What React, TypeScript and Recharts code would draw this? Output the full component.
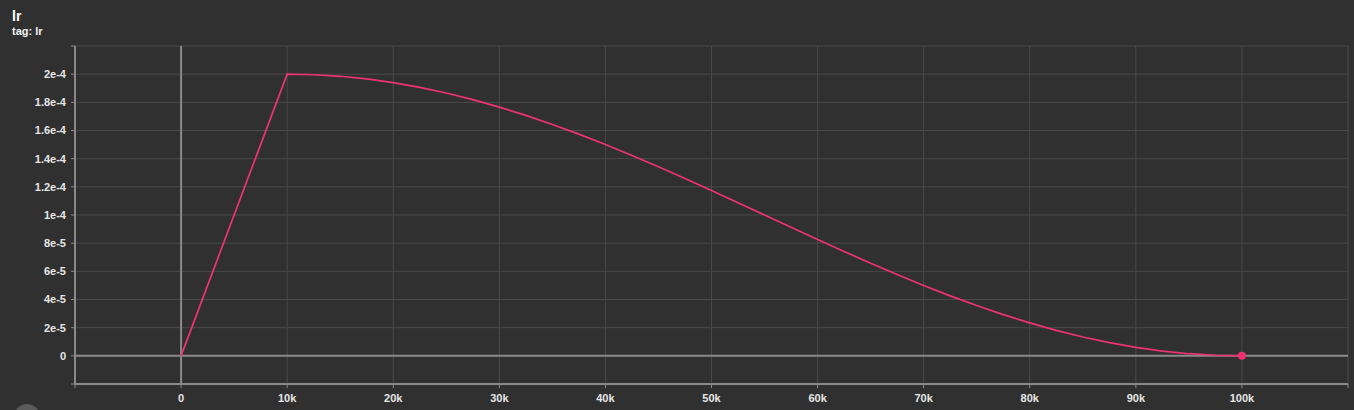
import React from "react";
import {
  LineChart,
  Line,
  XAxis,
  YAxis,
  CartesianGrid,
  ReferenceLine,
} from "recharts";

// training steps and learning rate
const STEPS = [
  0, 10000, 12500, 15000, 17500, 20000, 22500, 25000, 27500, 30000, 32500,
  35000, 37500, 40000, 42500, 45000, 47500, 50000, 52500, 55000, 57500, 60000,
  62500, 65000, 67500, 70000, 72500, 75000, 77500, 80000, 82500, 85000, 87500,
  90000, 92500, 95000, 97500, 100000,
];
const LR = [
  0, 2.0e-4, 1.996e-4, 1.985e-4, 1.966e-4, 1.94e-4, 1.906e-4, 1.866e-4,
  1.819e-4, 1.766e-4, 1.707e-4, 1.643e-4, 1.574e-4, 1.5e-4, 1.423e-4,
  1.342e-4, 1.259e-4, 1.174e-4, 1.087e-4, 1.0e-4, 0.913e-4, 0.826e-4,
  0.741e-4, 0.658e-4, 0.577e-4, 0.5e-4, 0.426e-4, 0.357e-4, 0.293e-4,
  0.234e-4, 0.181e-4, 0.134e-4, 0.094e-4, 0.06e-4, 0.034e-4, 0.015e-4,
  0.004e-4, 0,
];

const X_TICKS = [
  -10000, 0, 10000, 20000, 30000, 40000, 50000, 60000, 70000, 80000, 90000,
  100000, 110000,
];
const X_LABELS = [
  "", "0", "10k", "20k", "30k", "40k", "50k", "60k", "70k", "80k", "90k",
  "100k", "",
];
const Y_TICKS = [
  -2e-5, 0, 2e-5, 4e-5, 6e-5, 8e-5, 1e-4, 1.2e-4, 1.4e-4, 1.6e-4, 1.8e-4,
  2e-4, 2.2e-4,
];
const Y_LABELS = [
  "", "0", "2e-5", "4e-5", "6e-5", "8e-5", "1e-4", "1.2e-4", "1.4e-4",
  "1.6e-4", "1.8e-4", "2e-4", "",
];

const data = STEPS.map((step, i) => ({ step, lr: LR[i] }));

const BG = "#303030";
const GRID = "#4a4a4a";
const AXIS = "#8a8a8a";
const PINK = "#ee3372";
const tickStyle = { fontSize: 11, fill: "#e6e6e6", fontWeight: 700 };

export default function App() {
  const last = data.length - 1;
  return (
    <div
      style={{
        position: "fixed",
        top: 0,
        left: 0,
        width: 1354,
        height: 410,
        background: BG,
        overflow: "hidden",
        fontFamily: "'Liberation Sans', Arial, sans-serif",
      }}
    >
      <div style={{ position: "absolute", left: 12, top: 8, color: "#fff", fontSize: 14, fontWeight: 700 }}>
        lr
      </div>
      <div style={{ position: "absolute", left: 12, top: 25, color: "#f2f2f2", fontSize: 11, fontWeight: 700 }}>
        tag: lr
      </div>
      <div style={{ position: "absolute", left: 14, top: 404, width: 26, height: 26, borderRadius: 13, background: "#5a5a5a" }} />
      <div style={{ position: "absolute", left: 0, top: 0 }}>
        <LineChart width={1354} height={410} data={data} margin={{ top: 46, right: 6, left: 0, bottom: 0 }}>
          <CartesianGrid stroke={GRID} strokeWidth={1} />
          <XAxis
            dataKey="step"
            type="number"
            domain={[-10000, 110000]}
            ticks={X_TICKS}
            tickFormatter={(v: number) => X_LABELS[X_TICKS.indexOf(v)] ?? ""}
            tick={tickStyle}
            tickSize={4}
            tickMargin={6}
            height={26}
            stroke={AXIS}
            axisLine={{ stroke: AXIS, strokeWidth: 2 }}
            tickLine={{ stroke: AXIS }}
            allowDataOverflow
          />
          <YAxis
            type="number"
            domain={[-2e-5, 2.2e-4]}
            ticks={Y_TICKS}
            tickFormatter={(v: number) => Y_LABELS[Y_TICKS.indexOf(v)] ?? ""}
            tick={tickStyle}
            tickSize={4}
            tickMargin={5}
            width={75}
            axisLine={{ stroke: AXIS, strokeWidth: 2 }}
            tickLine={{ stroke: AXIS }}
            allowDataOverflow
          />
          <ReferenceLine x={0} stroke={AXIS} strokeWidth={2} />
          <ReferenceLine y={0} stroke={AXIS} strokeWidth={2} />
          <Line
            type="linear"
            dataKey="lr"
            stroke={PINK}
            strokeWidth={1.7}
            isAnimationActive={false}
            activeDot={false}
            dot={(p: any) =>
              p.index === last ? (
                <circle key={`d${p.index}`} cx={p.cx} cy={p.cy} r={4} fill={PINK} stroke="none" />
              ) : (
                <g key={`d${p.index}`} />
              )
            }
          />
        </LineChart>
      </div>
    </div>
  );
}
